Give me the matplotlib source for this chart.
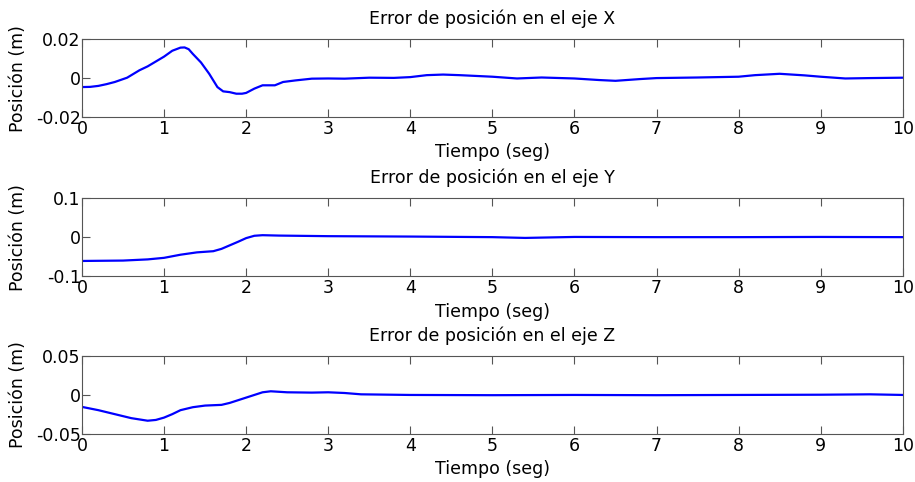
import matplotlib.pyplot as plt
import numpy as np

plt.rcParams['font.family'] = ['DejaVu Sans']

# tiempo (s) y error de posicion (m)
t_x = [0, 0.1, 0.2, 0.3, 0.4, 0.55, 0.7, 0.8, 0.9, 1.0, 1.1, 1.2, 1.25, 1.3, 1.35,
       1.45, 1.55, 1.65, 1.72, 1.8, 1.88, 1.95, 2.0, 2.1, 2.2, 2.35, 2.45, 2.6, 2.8,
       3.0, 3.2, 3.5, 3.8, 4.0, 4.2, 4.4, 4.6, 5.0, 5.3, 5.6, 6.0, 6.3, 6.5, 6.8,
       7.0, 7.5, 8.0, 8.2, 8.5, 8.8, 9.0, 9.3, 9.6, 10.0]
err_x = [-0.0046, -0.0045, -0.0040, -0.0031, -0.0020, 0.0002, 0.0040, 0.0060, 0.0085,
         0.0110, 0.0140, 0.0156, 0.0157, 0.0148, 0.0124, 0.0080, 0.0022, -0.0046,
         -0.0068, -0.0072, -0.0080, -0.0080, -0.0076, -0.0054, -0.0037, -0.0037,
         -0.0020, -0.0012, -0.0003, -0.0002, -0.0003, 0.0002, 0.0001, 0.0005, 0.0015,
         0.0018, 0.0015, 0.0007, -0.0002, 0.0003, -0.0002, -0.0010, -0.0014, -0.0005,
         0.0000, 0.0003, 0.0007, 0.0015, 0.0022, 0.0014, 0.0007, -0.0002, 0.0000, 0.0002]

t_y = [0, 0.5, 0.8, 1.0, 1.2, 1.4, 1.6, 1.7, 1.8, 1.9, 2.0, 2.1, 2.2, 2.4, 3.0, 4.0,
       5.0, 5.4, 6.0, 7.0, 8.0, 9.0, 10.0]
err_y = [-0.061, -0.060, -0.057, -0.053, -0.045, -0.039, -0.036, -0.030, -0.021,
         -0.012, -0.0025, 0.0035, 0.005, 0.004, 0.0025, 0.0015, 0.0, -0.002, 0.0005,
         0.0, 0.0, 0.0005, 0.0]

t_z = [0, 0.2, 0.4, 0.6, 0.8, 0.9, 1.0, 1.1, 1.2, 1.35, 1.5, 1.7, 1.8, 1.9, 2.0, 2.1,
       2.2, 2.3, 2.5, 2.8, 3.0, 3.2, 3.4, 4.0, 5.0, 6.0, 7.0, 8.0, 9.0, 9.6, 10.0]
err_z = [-0.0153, -0.0195, -0.0246, -0.0297, -0.0330, -0.0320, -0.0290, -0.0246,
         -0.0195, -0.0157, -0.0136, -0.0127, -0.0102, -0.0068, -0.0034, 0.0,
         0.0034, 0.0047, 0.0034, 0.0030, 0.0034, 0.0025, 0.0008, 0.0, -0.0003,
         0.0, -0.0003, 0.0, 0.0003, 0.0008, 0.0]

series = [(t_x, err_x, 'X', 0.02, [-0.02, 0, 0.02], ['-0.02', '0', '0.02']),
          (t_y, err_y, 'Y', 0.1, [-0.1, 0, 0.1], ['-0.1', '0', '0.1']),
          (t_z, err_z, 'Z', 0.05, [-0.05, 0, 0.05], ['-0.05', '0', '0.05'])]

fs = 12.5
fig = plt.figure(figsize=(9.15, 4.82), dpi=100)
bottoms = [0.757, 0.427, 0.0996]

for (t, e, eje, lim, yt, ytl), b in zip(series, bottoms):
    ax = fig.add_axes([0.0896, b, 0.897, 0.162])
    ax.plot(t, e, color='#0000ff', linewidth=1.6)
    ax.set_xlim(0, 10)
    ax.set_ylim(-lim, lim)
    ax.set_xticks(np.arange(0, 11))
    ax.set_yticks(yt)
    ax.set_yticklabels(ytl)
    ax.tick_params(direction='in', length=6, width=0.8, color='#555555',
                   labelsize=fs, top=True, pad=2)
    ax.tick_params(axis='y', pad=1)
    for s in ax.spines.values():
        s.set_color('#555555')
        s.set_linewidth(0.8)
    ax.set_title('Error de posición en el eje ' + eje, fontsize=fs, pad=11)
    ax.set_xlabel('Tiempo (seg)', fontsize=fs, labelpad=4)
    ax.set_ylabel('Posición (m)', fontsize=fs)
    ax.yaxis.set_label_coords(-0.067, 0.5)

fig.savefig('out.png', dpi=100)
